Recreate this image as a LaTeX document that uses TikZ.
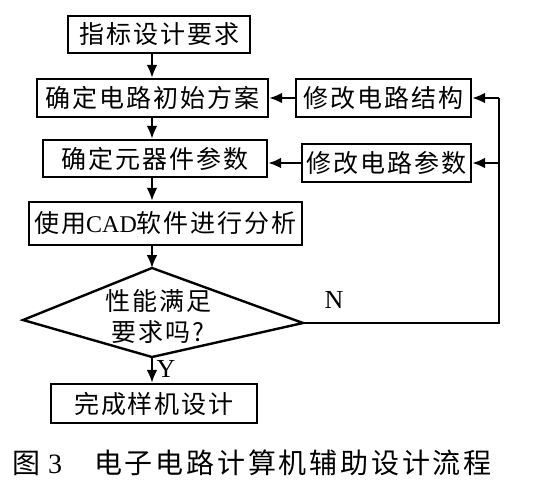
\documentclass[tikz,border=0pt]{standalone}
\usepackage{fontspec}
\setmainfont{Liberation Serif}
\newfontfamily\cjk[LetterSpace=8]{Noto Sans CJK SC}
\newfontfamily\cjkcap[LetterSpace=10]{Noto Sans CJK SC}
\usetikzlibrary{arrows.meta}

\begin{document}
\begin{tikzpicture}[x=1pt,y=-1pt,
	box/.style={draw,line width=2.4pt,inner sep=0pt,font=\cjk\fontsize{25}{27}\selectfont},
	arr/.style={line width=2.4pt,-{Latex[length=13pt,width=11pt]}}]
	\useasboundingbox (0,0) rectangle (552,493);
	\coordinate (axis) at (152,0);
	% main column
	\node [box,minimum width=182,minimum height=37] at (159,34.5) (req) {指标设计要求};
	\node [box,minimum width=231,minimum height=38] at (152.5,98) (init) {确定电路初始方案};
	\node [box,minimum width=224,minimum height=37] at (155,158.5) (param) {确定元器件参数};
	\node [box,minimum width=273,minimum height=43] at (165.5,223.5) (cad) {使用{\rmfamily\fontsize{24}{26}\selectfont CAD}软件进行分析};
	\node [box,minimum width=206,minimum height=39] at (154,403.5) (done) {完成样机设计};
	% right column
	\node [box,minimum width=175,minimum height=38] at (383.5,98) (struct) {修改电路结构};
	\node [box,minimum width=169,minimum height=38] at (386.5,163) (modp) {修改电路参数};
	% decision
	\coordinate (dt) at (152,268);
	\coordinate (dl) at (23,320);
	\coordinate (db) at (152,357);
	\coordinate (dr) at (303,323);
	\draw [line width=2.4pt,line join=miter] (dt) -- (dl) -- (db) -- (dr) -- cycle;
	\node [align=center,inner sep=0pt,font=\cjk\fontsize{25}{31}\selectfont] at (158,316) (perf) {性能满足\\要求吗?};
	\draw [arr] (req.south -| axis) -- (init.north -| axis);
	\draw [arr] (init.south -| axis) -- (param.north -| axis);
	\draw [arr] (param.south -| axis) -- (cad.north -| axis);
	\draw [arr] (cad.south -| axis) -- (dt);
	\draw [arr] (db) -- (done.north -| axis);
	\node [font=\fontsize{26}{28}\selectfont] at (166,369) (yes) {Y};
	% feedback loop
	\coordinate (corner) at (499,323);
	\draw [line width=2.4pt] (dr) -- (corner) -- (corner |- struct.east);
	\draw [arr] (corner |- struct.east) -- (struct.east);
	\draw [arr] (corner |- modp.east) -- (modp.east);
	\draw [arr] (struct.west) -- (init.east);
	\draw [arr] (modp.west) -- (modp.west -| param.east);
	\node [font=\fontsize{26}{28}\selectfont] at (334,300) (no) {N};
	% caption
	\node [anchor=west,inner sep=0pt,font=\cjkcap\fontsize{28}{30}\selectfont] at (12,463) (cap) {图\hspace{8pt}{\rmfamily 3}\hspace{32pt}电子电路计算机辅助设计流程};
\end{tikzpicture}
\end{document}
